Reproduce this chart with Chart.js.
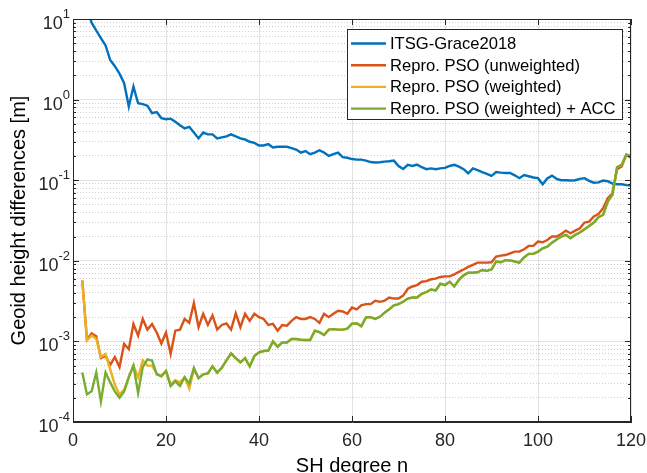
<!DOCTYPE html>
<html>
<head>
<meta charset="utf-8">
<script src="https://cdn.jsdelivr.net/npm/chart.js@4.4.1/dist/chart.umd.min.js"></script>
<style>
  html, body { margin: 0; padding: 0; background: #fff; }
  #wrap { width: 647px; height: 473px; }
</style>
</head>
<body>
<div id="wrap"><canvas id="geoidChart" width="647" height="473"></canvas></div>
<script>
// SH degrees n
const degrees = [
  2, 3, 4, 5, 6, 7, 8, 9, 10, 11, 12, 13, 14, 15, 16, 17, 18, 19, 20,
  21, 22, 23, 24, 25, 26, 27, 28, 29, 30, 31, 32, 33, 34, 35, 36, 37, 38, 39, 40,
  41, 42, 43, 44, 45, 46, 47, 48, 49, 50, 51, 52, 53, 54, 55, 56, 57, 58, 59, 60,
  61, 62, 63, 64, 65, 66, 67, 68, 69, 70, 71, 72, 73, 74, 75, 76, 77, 78, 79, 80,
  81, 82, 83, 84, 85, 86, 87, 88, 89, 90, 91, 92, 93, 94, 95, 96, 97, 98, 99, 100,
  101, 102, 103, 104, 105, 106, 107, 108, 109, 110, 111, 112, 113, 114, 115, 116, 117, 118, 119, 120
];

// geoid height differences [m] per degree
const itsgGrace = [
  30, 14, 9.0, 7.2, 5.8, 4.7, 3.1, 2.6, 2.1, 1.6, 0.82, 1.45, 0.90, 0.88, 0.84, 0.68, 0.70, 0.59, 0.57,
  0.58, 0.53, 0.48, 0.44, 0.46, 0.39, 0.33, 0.39, 0.37, 0.37, 0.33, 0.34, 0.35, 0.37, 0.35, 0.33, 0.32, 0.30, 0.29, 0.27,
  0.27, 0.28, 0.255, 0.26, 0.26, 0.26, 0.25, 0.24, 0.22, 0.23, 0.21, 0.22, 0.235, 0.22, 0.20, 0.21, 0.22, 0.193, 0.19, 0.183,
  0.18, 0.18, 0.175, 0.168, 0.166, 0.167, 0.17, 0.172, 0.175, 0.15, 0.138, 0.155, 0.15, 0.156, 0.145, 0.137, 0.14, 0.137, 0.14, 0.142,
  0.15, 0.155, 0.147, 0.137, 0.122, 0.14, 0.133, 0.126, 0.12, 0.113, 0.126, 0.124, 0.123, 0.123, 0.115, 0.106, 0.116, 0.112, 0.108, 0.106,
  0.089, 0.105, 0.114, 0.104, 0.100, 0.100, 0.099, 0.100, 0.104, 0.106, 0.098, 0.093, 0.094, 0.099, 0.097, 0.091, 0.089, 0.089, 0.087, 0.086
];

const psoUnweighted = [
  0.0057, 0.00105, 0.00126, 0.00116, 0.00062, 0.00066, 0.00051, 0.00064, 0.00048, 0.00093, 0.0008, 0.00164, 0.00118, 0.0019, 0.0014, 0.00164, 0.00129, 0.00094, 0.00129,
  0.0007, 0.00136, 0.0014, 0.0019, 0.0017, 0.003, 0.0015, 0.0022, 0.0016, 0.0021, 0.0014, 0.0016, 0.00167, 0.0014, 0.00223, 0.0015, 0.0022, 0.0018, 0.0022, 0.002,
  0.0019, 0.0016, 0.00165, 0.00136, 0.0016, 0.00157, 0.0018, 0.002, 0.0019, 0.0019, 0.002, 0.0019, 0.0017, 0.0022, 0.002, 0.0022, 0.0024, 0.00235, 0.0022, 0.00263,
  0.0025, 0.0028, 0.0029, 0.0029, 0.0032, 0.0031, 0.0032, 0.0035, 0.0034, 0.0034, 0.0037, 0.0045, 0.0048, 0.005, 0.0055, 0.0056, 0.0059, 0.006, 0.0063, 0.0064,
  0.0064, 0.0068, 0.0073, 0.0078, 0.0084, 0.0089, 0.0095, 0.0095, 0.0095, 0.0096, 0.0113, 0.0116, 0.0118, 0.0124, 0.013, 0.013, 0.0139, 0.0153, 0.0153, 0.0173,
  0.017, 0.0181, 0.02, 0.02, 0.0215, 0.0237, 0.022, 0.0237, 0.0253, 0.0298, 0.0306, 0.0354, 0.038, 0.0449, 0.0597, 0.069, 0.137, 0.148, 0.207, 0.19
];

const psoWeighted = [
  0.0057, 0.00103, 0.00118, 0.00108, 0.00064, 0.0007, 0.00045, 0.00029, 0.00022, 0.00025, 0.00036, 0.0005, 0.00036, 0.00058, 0.0005, 0.0005, 0.0004, 0.00037, 0.00043,
  0.00029, 0.00033, 0.00031, 0.00036, 0.00026, 0.00045, 0.00035, 0.00039, 0.0004, 0.00049, 0.00041, 0.00047, 0.00058, 0.00071, 0.00062, 0.00055, 0.00062, 0.00049, 0.00066, 0.00073,
  0.00076, 0.00077, 0.001, 0.00086, 0.00097, 0.00097, 0.00107, 0.00107, 0.00105, 0.00104, 0.00104, 0.00136, 0.0013, 0.0012, 0.0014, 0.00142, 0.0014, 0.0014, 0.00144, 0.00166,
  0.00168, 0.00154, 0.00198, 0.002, 0.0019, 0.00202, 0.00227, 0.0025, 0.0028, 0.0029, 0.0031, 0.0034, 0.0035, 0.0035, 0.0039, 0.0041, 0.0044, 0.0043, 0.0052, 0.005,
  0.0055, 0.0048, 0.0058, 0.0066, 0.0071, 0.0071, 0.0072, 0.0077, 0.0075, 0.0078, 0.0098, 0.0096, 0.0102, 0.0101, 0.0098, 0.0095, 0.011, 0.0122, 0.0122, 0.013,
  0.0143, 0.015, 0.0168, 0.0184, 0.02, 0.021, 0.019, 0.021, 0.0224, 0.0246, 0.027, 0.0298, 0.0347, 0.0371, 0.0543, 0.066, 0.145, 0.155, 0.207, 0.2
];

const psoWeightedAcc = [
  0.00041, 0.00022, 0.00024, 0.00041, 0.00018, 0.00041, 0.00031, 0.00024, 0.0002, 0.00024, 0.00036, 0.0005, 0.00023, 0.00048, 0.0006, 0.00058, 0.00039, 0.00037, 0.00043,
  0.00028, 0.00032, 0.00028, 0.00036, 0.0003, 0.00047, 0.00035, 0.00039, 0.0004, 0.00049, 0.00041, 0.00047, 0.00058, 0.00071, 0.00062, 0.00055, 0.00062, 0.00049, 0.00066, 0.00073,
  0.00076, 0.00077, 0.001, 0.00086, 0.00097, 0.00097, 0.00107, 0.00107, 0.00105, 0.00104, 0.00104, 0.00136, 0.0013, 0.0012, 0.0014, 0.00142, 0.0014, 0.0014, 0.00144, 0.00166,
  0.00168, 0.00154, 0.00198, 0.002, 0.0019, 0.00202, 0.00227, 0.0025, 0.0028, 0.0029, 0.0031, 0.0034, 0.0035, 0.0035, 0.0039, 0.0041, 0.0044, 0.0043, 0.0052, 0.005,
  0.0055, 0.0048, 0.0058, 0.0066, 0.0071, 0.0071, 0.0072, 0.0077, 0.0075, 0.0078, 0.0098, 0.0096, 0.0102, 0.0101, 0.0098, 0.0095, 0.011, 0.0122, 0.0122, 0.013,
  0.0143, 0.015, 0.0168, 0.0184, 0.02, 0.021, 0.019, 0.021, 0.0224, 0.0246, 0.027, 0.0298, 0.0347, 0.0371, 0.0543, 0.066, 0.145, 0.155, 0.207, 0.2
];

const seriesLabels = ['ITSG-Grace2018', 'Repro. PSO (unweighted)', 'Repro. PSO (weighted)', 'Repro. PSO (weighted) + ACC'];
const xTicks = [0, 20, 40, 60, 80, 100, 120];
const yDecades = [-4, -3, -2, -1, 0, 1];

const FONT = "'Liberation Sans', Arial, Helvetica, sans-serif";
const AXIS_COLOR = '#262626';

const toPoints = vals => vals.map((v, i) => ({ x: degrees[i], y: v }));
const isDecade = v => Math.abs(Math.log10(v) - Math.round(Math.log10(v))) < 1e-9;

// box, inward ticks, log tick labels, axis titles and legend (MATLAB look)
const axesDecor = {
    id: 'axesDecor',
    afterDraw(chart) {
        const { ctx, chartArea: a, scales: { x, y } } = chart;
        ctx.save();
        ctx.strokeStyle = AXIS_COLOR;
        ctx.lineWidth = 1;
        ctx.strokeRect(a.left + 0.5, a.top + 0.5, a.right - a.left - 1, a.bottom - a.top - 1);

        ctx.beginPath();
        xTicks.forEach(t => {
            const px = Math.round(x.getPixelForValue(t)) + 0.5;
            ctx.moveTo(px, a.bottom); ctx.lineTo(px, a.bottom - 6);
            ctx.moveTo(px, a.top); ctx.lineTo(px, a.top + 6);
        });
        y.ticks.forEach(t => {
            const py = Math.round(y.getPixelForValue(t.value)) + 0.5;
            const len = isDecade(t.value) ? 6 : 3;
            ctx.moveTo(a.left, py); ctx.lineTo(a.left + len, py);
            ctx.moveTo(a.right, py); ctx.lineTo(a.right - len, py);
        });
        ctx.stroke();

        // y tick labels 10^k
        ctx.fillStyle = AXIS_COLOR;
        ctx.textBaseline = 'alphabetic';
        yDecades.forEach(k => {
            const py = y.getPixelForValue(Math.pow(10, k));
            const exp = String(k);
            ctx.font = '13px ' + FONT;
            const ew = ctx.measureText(exp).width;
            ctx.textAlign = 'left';
            ctx.fillText(exp, 70 - ew, py - 1);
            ctx.font = '18px ' + FONT;
            ctx.textAlign = 'right';
            ctx.fillText('10', 70 - ew, py + 10);
        });

        // axis titles
        ctx.fillStyle = '#000';
        ctx.font = '20px ' + FONT;
        ctx.textAlign = 'center';
        ctx.textBaseline = 'alphabetic';
        ctx.fillText('SH degree n', (a.left + a.right) / 2, 472);
        ctx.save();
        ctx.translate(25, (a.top + a.bottom) / 2);
        ctx.rotate(-Math.PI / 2);
        ctx.fillText('Geoid height differences [m]', 0, 0);
        ctx.restore();

        // legend
        const box = { left: 347.5, top: 29.5, width: 275, height: 90 };
        ctx.fillStyle = '#fff';
        ctx.fillRect(box.left, box.top, box.width, box.height);
        ctx.strokeStyle = AXIS_COLOR;
        ctx.lineWidth = 1;
        ctx.strokeRect(box.left, box.top, box.width, box.height);
        ctx.font = '16.6px ' + FONT;
        ctx.textAlign = 'left';
        ctx.textBaseline = 'middle';
        chart.data.datasets.forEach((ds, i) => {
            const ry = 43.5 + i * 21.7;
            ctx.strokeStyle = ds.borderColor;
            ctx.lineWidth = 2.4;
            ctx.beginPath();
            ctx.moveTo(351, ry); ctx.lineTo(386, ry);
            ctx.stroke();
            ctx.fillStyle = '#000';
            ctx.fillText(ds.label, 390, ry + 1);
        });
        ctx.restore();
    }
};

const ctx = document.getElementById('geoidChart');
new Chart(ctx, {
    type: 'line',
    data: {
        datasets: [
            { label: seriesLabels[0], data: toPoints(itsgGrace), borderColor: '#0072BD', order: 3 },
            { label: seriesLabels[1], data: toPoints(psoUnweighted), borderColor: '#D95319', order: 2 },
            { label: seriesLabels[2], data: toPoints(psoWeighted), borderColor: '#EDB120', order: 1 },
            { label: seriesLabels[3], data: toPoints(psoWeightedAcc), borderColor: '#77AC30', order: 0 }
        ]
    },
    options: {
        responsive: false,
        animation: false,
        events: [],
        layout: { padding: { top: 19, right: 16, left: 0, bottom: 0 } },
        elements: {
            line: { borderWidth: 2.4, tension: 0, fill: false },
            point: { radius: 0 }
        },
        datasets: { line: { clip: 0 } },
        plugins: { legend: { display: false }, tooltip: { enabled: false } },
        scales: {
            x: {
                type: 'linear',
                min: 0,
                max: 120,
                afterBuildTicks: scale => { scale.ticks = xTicks.map(v => ({ value: v })); },
                afterFit: scale => { scale.height = 51; scale.paddingLeft = 0; scale.paddingRight = 0; },
                ticks: { color: AXIS_COLOR, padding: 8, maxRotation: 0, font: { family: FONT, size: 18 } },
                grid: { color: '#e2e2e2', drawTicks: false },
                border: { color: AXIS_COLOR }
            },
            y: {
                type: 'logarithmic',
                min: 1e-4,
                max: 10,
                afterBuildTicks: scale => {
                    const t = [];
                    yDecades.forEach(k => {
                        const base = Math.pow(10, k);
                        if (k === 1) { t.push({ value: base }); return; }
                        for (let m = 1; m <= 9; m++) t.push({ value: m * base });
                    });
                    scale.ticks = t;
                },
                afterFit: scale => { scale.width = 73; },
                ticks: { display: false },
                grid: {
                    drawTicks: false,
                    color: c => (c.tick && !isDecade(c.tick.value)) ? '#cfcfcf' : '#e2e2e2'
                },
                border: {
                    color: AXIS_COLOR,
                    dash: c => (c.tick && !isDecade(c.tick.value)) ? [1, 2] : []
                }
            }
        }
    },
    plugins: [axesDecor]
});
</script>
</body>
</html>
